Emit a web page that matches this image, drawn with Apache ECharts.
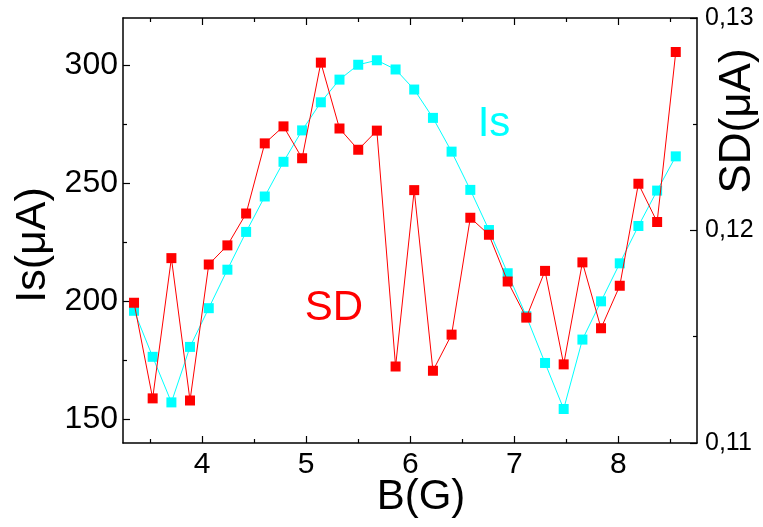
<!DOCTYPE html>
<html><head><meta charset="utf-8">
<script src="https://cdn.jsdelivr.net/npm/echarts@6/dist/echarts.min.js"></script>
<style>html,body{margin:0;padding:0;background:#fff}#c{width:763px;height:527px}</style>
</head><body><div id="c"></div>
<script>
// Magnetic field B (G)
const B = [3.346,3.525,3.705,3.884,4.064,4.243,4.423,4.602,4.782,4.961,5.141,5.320,5.500,5.679,5.859,6.038,6.218,6.397,6.577,6.756,6.936,7.115,7.295,7.474,7.654,7.833,8.013,8.192,8.372,8.551];
// Is (uA), left axis
const IS = [196.0,176.5,157.2,180.7,197.1,213.4,229.4,244.4,259.1,272.4,284.3,293.9,300.2,302.1,298.2,289.7,277.7,263.4,247.2,230.2,211.9,193.7,173.9,154.4,183.8,200.0,216.1,231.9,246.9,261.4];
// SD (uA), right axis
const SD = [0.1166,0.1121,0.1187,0.1120,0.1184,0.1193,0.1208,0.1241,0.1249,0.1234,0.1279,0.1248,0.1238,0.1247,0.1136,0.1219,0.1134,0.1151,0.1206,0.1198,0.1176,0.1159,0.1181,0.1137,0.1185,0.1154,0.1174,0.1222,0.1204,0.1284];
const xTicks = [4,5,6,7,8];
const xMinor = [3.5,4.5,5.5,6.5,7.5,8.5];
const isTicks = [150,200,250,300];
const isMinor = [175,225,275];
const sdTicks = [0.11,0.12,0.13];
const sdMinor = [0.115,0.125];

const FONT = "'Liberation Sans', Arial, sans-serif";
const X_MIN = 3.24, X_MAX = 8.755, IS_MIN = 140, IS_MAX = 320, SD_MIN = 0.11, SD_MAX = 0.13;
const lineStyle = {color:'#000', width:1.5};

function xAx(pos, ticks, len, showLine, showLabel){
  return {type:'value', position:pos, min:X_MIN, max:X_MAX,
    axisLine:{show:showLine, onZero:false, lineStyle},
    axisTick:{show:true, inside:true, length:len, customValues:ticks, lineStyle:{color:'#000', width:1.2}},
    axisLabel:{show:showLabel, customValues:ticks, margin:7, color:'#000', fontSize:30, fontFamily:FONT},
    splitLine:{show:false}};
}
function yAx(pos, min, max, ticks, len, showLine, showLabel, fs, fmt, margin){
  return {type:'value', position:pos, min:min, max:max,
    axisLine:{show:showLine, onZero:false, lineStyle},
    axisTick:{show:true, inside:true, length:len, customValues:ticks, lineStyle:{color:'#000', width:1.2}},
    axisLabel:{show:showLabel, customValues:ticks, margin:margin, color:'#000', fontSize:fs, fontFamily:FONT, formatter:fmt},
    splitLine:{show:false}};
}

const chart = echarts.init(document.getElementById('c'), null, {renderer:'canvas'});
chart.setOption({
  animation:false,
  backgroundColor:'#fff',
  grid:{left:123, right:66, top:18, bottom:84, containLabel:false},
  xAxis:[
    xAx('bottom', xTicks, 7, true, true),
    xAx('bottom', xMinor, 4, false, false),
    xAx('top', xTicks, 7, true, false),
    xAx('top', xMinor, 4, false, false)
  ],
  yAxis:[
    yAx('left', IS_MIN, IS_MAX, isTicks, 7, true, true, 32, v=>String(v), 5),
    yAx('left', IS_MIN, IS_MAX, isMinor, 4, false, false, 32, null, 5),
    yAx('right', SD_MIN, SD_MAX, sdTicks, 7, true, true, 25, v=>Number(v).toFixed(2).replace('.', ','), 8),
    yAx('right', SD_MIN, SD_MAX, sdMinor, 4, false, false, 25, null, 8)
  ],
  series:[
    {type:'line', name:'Is', xAxisIndex:0, yAxisIndex:0, data:B.map((b,i)=>[b, IS[i]]),
     symbol:'rect', symbolSize:10, itemStyle:{color:'#00FFFF'}, lineStyle:{color:'#00FFFF', width:1}, z:2},
    {type:'line', name:'SD', xAxisIndex:0, yAxisIndex:2, data:B.map((b,i)=>[b, SD[i]]),
     symbol:'rect', symbolSize:10, itemStyle:{color:'#FF0000'}, lineStyle:{color:'#FF0000', width:1}, z:3}
  ],
  graphic:[
    {type:'text', x:494, y:124, style:{text:'Is', font:'42px '+FONT, fill:'#00FFFF', textAlign:'center', textVerticalAlign:'middle'}},
    {type:'text', x:334, y:308, style:{text:'SD', font:'42px '+FONT, fill:'#FF0000', textAlign:'center', textVerticalAlign:'middle'}},
    {type:'text', x:421, y:497, style:{text:'B(G)', font:'42px '+FONT, fill:'#000', textAlign:'center', textVerticalAlign:'middle'}},
    {type:'text', x:33, y:245, rotation:Math.PI/2, style:{text:'Is(μA)', font:'43px '+FONT, fill:'#000', textAlign:'center', textVerticalAlign:'middle'}},
    {type:'text', x:738, y:121, rotation:Math.PI/2, style:{text:'SD(μA)', font:'44px '+FONT, fill:'#000', textAlign:'center', textVerticalAlign:'middle'}}
  ]
});
</script></body></html>
